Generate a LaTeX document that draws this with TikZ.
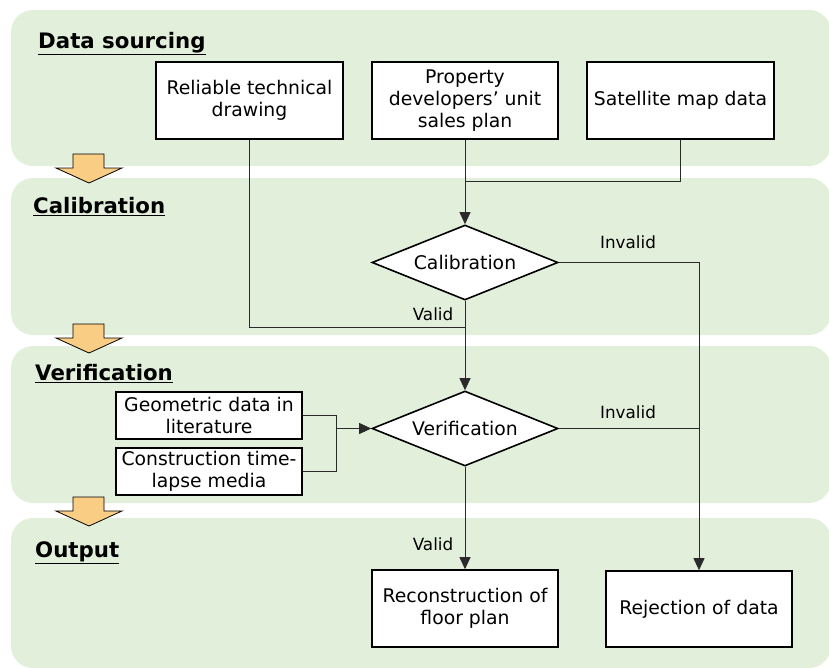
\documentclass[tikz,border=0pt]{standalone}
\usepackage{fontspec}
\setmainfont{DejaVu Sans}
\usetikzlibrary{arrows.meta,shapes.geometric}
\definecolor{panelgreen}{HTML}{E2EFDA}
\definecolor{arrowfill}{HTML}{F9CD84}
\definecolor{wire}{HTML}{2A2A2A}
\begin{document}
\begin{tikzpicture}[x=1pt,y=-1pt,
  panel/.style={fill=panelgreen, rounded corners=22pt},
  stagetitle/.style={anchor=base west, inner sep=0pt, font=\fontsize{21.3}{25}\selectfont\bfseries},
  box/.style={draw=black, line width=1.6pt, fill=white, align=center, inner sep=2pt,
    font=\fontsize{18.8}{22}\selectfont},
  decision/.style={diamond, draw=black, line width=1.6pt, fill=white, shape aspect=2.5,
    inner sep=0pt, minimum width=186pt, minimum height=75pt, font=\fontsize{18.8}{22}\selectfont},
  flow/.style={draw=wire, line width=0.8pt},
  tip/.style={-{Triangle[length=12pt,width=11pt]}, >={Triangle[length=12pt,width=11pt]}},
  edgelabel/.style={font=\fontsize{16.8}{20}\selectfont, inner sep=0pt},
  stagearrow/.style={fill=arrowfill, draw=black, line width=0.8pt, line join=miter}]
\useasboundingbox (0,0) rectangle (829,667);

% stage panels
\fill[panel] (11,10) rectangle (831,166);
\fill[panel] (11,178) rectangle (831,335);
\fill[panel] (11,346) rectangle (831,503);
\fill[panel] (11,518) rectangle (831,668);

% block arrows between stages
\foreach \t in {154,324,497}{
  \draw[stagearrow] (73,\t) -- (104,\t) -- (104,\t+14) -- (122,\t+14) -- (89,\t+29)
    -- (56,\t+14) -- (73,\t+14) -- cycle;
}

% stage titles
\node[stagetitle] (tsrc) at (38,48) {\underline{Data sourcing}};
\node[stagetitle] (tcal) at (33,213) {\underline{Calibration}};
\node[stagetitle] (tver) at (35,380) {\underline{Verification}};
\node[stagetitle] (tout) at (35,557) {\underline{Output}};

% data sources
\node[box, minimum width=187pt, minimum height=77pt] (rel) at (249.5,100.5) {Reliable technical\\drawing};
\node[box, minimum width=186pt, minimum height=77pt] (prop) at (465,100.5) {Property\\developers’ unit\\sales plan};
\node[box, minimum width=187pt, minimum height=77pt] (sat) at (680.5,100.5) {Satellite map data};

% decisions
\node[decision] (calib) at (465,262.5) {Calibration};
\node[decision] (verif) at (465,428.5) {Verification};

% supporting evidence
\node[box, minimum width=186pt, minimum height=47pt] (geo) at (209,415.5) {Geometric data in\\literature};
\node[box, minimum width=186pt, minimum height=47pt] (con) at (209,471.5) {Construction time-\\lapse media};

% outcomes
\node[box, minimum width=186pt, minimum height=77pt] (recon) at (465,608.5) {Reconstruction of\\floor plan};
\node[box, minimum width=186pt, minimum height=76pt] (rej) at (699,609) {Rejection of data};

% junction points
\coordinate (satjoin) at (465,181);
\coordinate (reljoin) at (465,327);
\coordinate (bus) at (336,428.5);

% connectors
\draw[flow] (sat.south) |- (satjoin);
\draw[flow, tip] (prop.south) -- (calib.north);
\draw[flow] (rel.south) |- (reljoin);
\draw[flow, tip] (calib.south) -- (verif.north);
\draw[flow, tip] (calib.east) -| (rej.north);
\draw[flow] (verif.east) -- (verif.east -| rej.north);
\draw[flow, tip] (verif.south) -- (recon.north);
\draw[flow] (geo.east) -| (bus);
\draw[flow] (con.east) -| (bus);
\draw[flow, tip] (bus) -- (verif.west);

% branch labels
\node[edgelabel, anchor=base] (cinv) at (628,248) {Invalid};
\node[edgelabel, anchor=base] (cval) at (433,320) {Valid};
\node[edgelabel, anchor=base] (vinv) at (628,418) {Invalid};
\node[edgelabel, anchor=base] (vval) at (433,550) {Valid};
\end{tikzpicture}
\end{document}
